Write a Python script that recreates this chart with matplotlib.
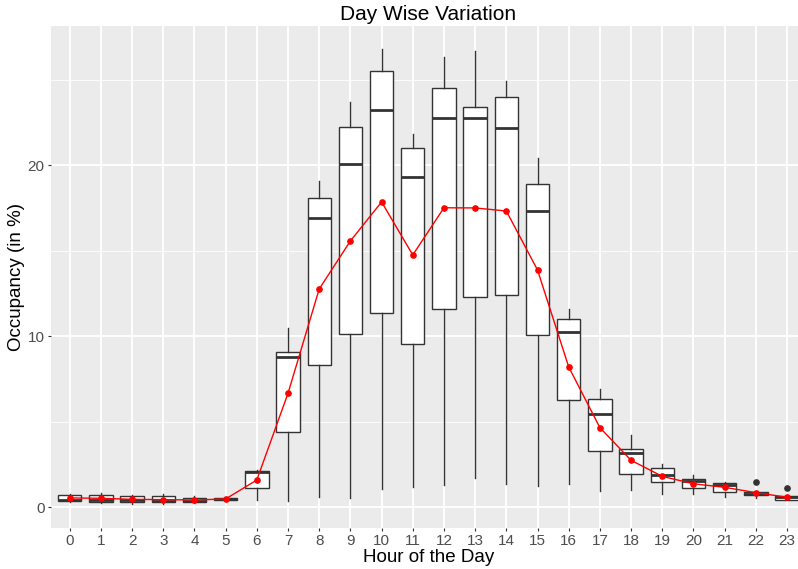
import numpy as np
import matplotlib
matplotlib.use("Agg")
import matplotlib.pyplot as plt
from matplotlib.ticker import MultipleLocator

hours = list(range(24))
hour_labels = [str(h) for h in hours]

# box statistics (occupancy in %)
whisker_low = [0.30, 0.25, 0.17, 0.20, 0.25, 0.39, 0.41, 0.37, 0.60, 0.51, 1.03, 1.19,
               1.29, 1.70, 1.35, 1.23, 1.33, 0.92, 1.01, 0.74, 0.74, 0.57, 0.53, 0.40]
q1 = [0.37, 0.31, 0.31, 0.27, 0.29, 0.39, 1.11, 4.39, 8.29, 10.10, 11.36, 9.51,
      11.58, 12.28, 12.40, 10.06, 6.27, 3.27, 1.91, 1.44, 1.09, 0.88, 0.70, 0.43]
median = [0.43, 0.39, 0.41, 0.35, 0.37, 0.47, 2.05, 8.79, 16.90, 20.08, 23.20, 19.28,
          22.77, 22.77, 22.18, 17.33, 10.23, 5.46, 3.14, 1.87, 1.50, 1.27, 0.78, 0.57]
q3 = [0.68, 0.72, 0.62, 0.62, 0.51, 0.55, 2.10, 9.08, 18.07, 22.20, 25.50, 21.00,
      24.48, 23.41, 24.00, 18.90, 10.99, 6.32, 3.41, 2.26, 1.64, 1.39, 0.86, 0.62]
whisker_high = [0.74, 0.84, 0.68, 0.74, 0.64, 0.60, 2.16, 10.49, 19.06, 23.67, 26.80, 21.83,
                26.33, 26.67, 24.91, 20.43, 11.58, 6.88, 4.21, 2.50, 1.85, 1.46, 0.90, 0.66]
outliers = {22: [1.48], 23: [1.09]}
mean_occ = [0.53, 0.51, 0.45, 0.43, 0.41, 0.47, 1.58, 6.65, 12.75, 15.56, 17.84, 14.74,
            17.50, 17.49, 17.31, 13.86, 8.19, 4.64, 2.73, 1.79, 1.36, 1.15, 0.84, 0.57]

plt.rcParams['font.family'] = ['Liberation Sans', 'DejaVu Sans']

fig = plt.figure(figsize=(7.98, 5.69), dpi=100)
ax = fig.add_axes([0.0639, 0.0729, 0.9458, 0.8814])
ax.set_facecolor('#EBEBEB')

stats = []
for i, h in enumerate(hours):
    stats.append({
        'whislo': whisker_low[i], 'q1': q1[i], 'med': median[i],
        'q3': q3[i], 'whishi': whisker_high[i],
        'fliers': outliers.get(h, []),
    })

ax.bxp(stats, positions=hours, widths=0.75, patch_artist=True, showcaps=False,
       boxprops=dict(facecolor='white', edgecolor='#333333', linewidth=1.0),
       medianprops=dict(color='#333333', linewidth=2.0),
       whiskerprops=dict(color='#333333', linewidth=1.0),
       flierprops=dict(marker='o', markerfacecolor='#333333', markeredgecolor='#333333',
                       markersize=3.8),
       zorder=3)

# mean occupancy per hour
ax.plot(hours, mean_occ, color='red', linewidth=1.0, marker='o', markersize=3.8, zorder=4)

ax.set_xlim(-0.6, 23.6)
ax.set_ylim(-1.20, 28.13)
ax.set_xticks(hours)
ax.set_xticklabels(hour_labels)
ax.yaxis.set_major_locator(MultipleLocator(10))
ax.yaxis.set_minor_locator(MultipleLocator(5))

ax.grid(which='major', color='white', linewidth=1.3, zorder=0)
ax.grid(which='minor', axis='y', color='white', linewidth=0.6, zorder=0)
ax.set_axisbelow(True)
for s in ax.spines.values():
    s.set_visible(False)
ax.tick_params(which='major', length=2.5, width=0.8, color='#333333',
               labelsize=11, labelcolor='#4D4D4D', pad=2)
ax.tick_params(which='minor', length=0)

ax.set_title('Day Wise Variation', fontsize=15, pad=4)
ax.set_xlabel('Hour of the Day', fontsize=13.5, labelpad=1)
ax.set_ylabel('Occupancy (in %)', fontsize=13.5, labelpad=2)

fig.savefig('out.png', dpi=100)
